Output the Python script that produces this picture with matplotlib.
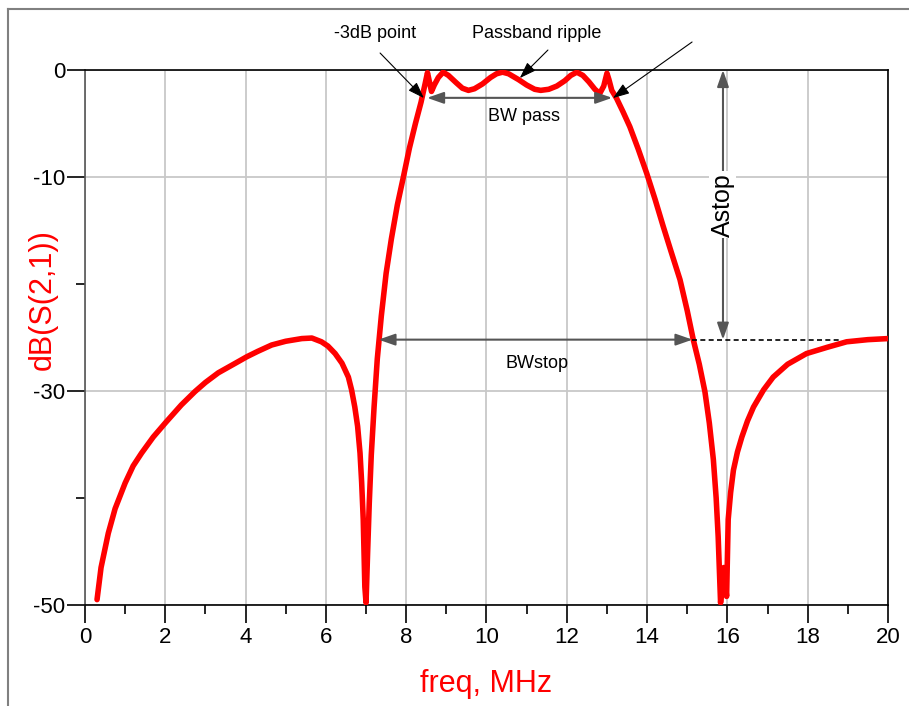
import matplotlib.pyplot as plt
from matplotlib.lines import Line2D

plt.rcParams['font.family'] = ['Liberation Sans', 'DejaVu Sans']
plt.rcParams['axes.unicode_minus'] = False

# S21 of the bandpass filter
freq = [0.30, 0.40, 0.58, 0.75, 1.00, 1.20, 1.41, 1.70, 2.02, 2.40, 2.74, 3.00,
        3.32, 3.70, 4.03, 4.30, 4.65, 5.00, 5.40, 5.65, 5.89, 6.05, 6.23, 6.40,
        6.56, 6.64, 6.72, 6.79, 6.85, 6.89, 6.93, 6.97, 7.00,
        7.04, 7.08, 7.13, 7.20, 7.28, 7.38, 7.50, 7.63, 7.78, 7.93, 8.08, 8.23,
        8.37, 8.47, 8.53, 8.63, 8.70, 8.80, 8.92, 9.05, 9.25, 9.40, 9.55, 9.70,
        9.90, 10.10, 10.25, 10.40, 10.55, 10.80, 11.00, 11.20, 11.35, 11.55,
        11.75, 11.95, 12.10, 12.25, 12.40, 12.55, 12.70, 12.82, 12.92, 13.00,
        13.05, 13.12, 13.24, 13.40, 13.57, 13.78, 13.99, 14.20, 14.40, 14.60,
        14.82, 15.00, 15.15, 15.30, 15.44, 15.55, 15.65, 15.72, 15.77, 15.83,
        15.91, 15.98, 16.02, 16.08, 16.15, 16.25, 16.36, 16.50, 16.65, 16.90,
        17.14, 17.50, 17.97, 18.50, 18.97, 19.50, 20.00]
s21_db = [-49.5, -46.5, -43.3, -41.0, -38.6, -37.0, -35.8, -34.3, -32.9, -31.3, -30.05, -29.2,
          -28.3, -27.5, -26.8, -26.3, -25.7, -25.35, -25.1, -25.05, -25.4, -25.8, -26.5, -27.4,
          -28.7, -29.9, -31.5, -33.3, -35.8, -38.5, -42.0, -48.3, -49.8,
          -45.0, -40.5, -36.0, -31.5, -27.0, -23.0, -19.0, -15.8, -12.6, -10.0, -7.3, -5.0,
          -3.0, -1.3, -0.25, -2.0, -1.4, -0.7, -0.2, -0.5, -1.2, -1.7, -1.9, -1.75,
          -1.3, -0.7, -0.35, -0.2, -0.35, -0.9, -1.4, -1.8, -1.9, -1.8,
          -1.5, -1.0, -0.5, -0.2, -0.5, -1.1, -1.8, -2.2, -1.5, -0.3,
          -0.9, -1.9, -2.65, -3.9, -5.3, -7.4, -9.65, -12.1, -14.6, -17.0,
          -19.6, -22.5, -25.2, -27.5, -30.06, -33.0, -36.4, -40.0, -43.6, -49.8,
          -46.5, -49.2, -42.0, -39.5, -37.4, -35.7, -34.3, -32.8, -31.5, -29.9,
          -28.7, -27.5, -26.5, -25.9, -25.4, -25.2, -25.1]

x_major = [0, 2, 4, 6, 8, 10, 12, 14, 16, 18, 20]
x_minor = [1, 3, 5, 7, 9, 11, 13, 15, 17, 19]
y_major = [-50, -30, -10, 0]
y_minor = [-40, -20]

fig = plt.figure(figsize=(9.09, 7.06), dpi=100)
ax = fig.add_axes([0.0935, 0.1431, 0.8834, 0.7577])

ax.plot(freq, s21_db, color='#ff0000', lw=4.0, solid_capstyle='round',
        solid_joinstyle='round', zorder=3)

ax.set_xlim(0, 20)
ax.set_ylim(-50, 0)
ax.set_xticks(x_major)
ax.set_xticks(x_minor, minor=True)
ax.set_yticks(y_major)
ax.set_yticks(y_minor, minor=True)
ax.tick_params(which='major', length=13, width=1.2, labelsize=16, pad=3)
ax.tick_params(which='minor', length=6.5, width=1.2)
ax.tick_params(axis='y', which='major', pad=1)

ax.grid(True, which='major', color='#c8c8c8', lw=1.3, zorder=0)
for s in ax.spines.values():
    s.set_color('black')
    s.set_linewidth(1.2)
ax.spines['left'].set_color('#555555')

ax.set_xlabel('freq, MHz', color='#ff0000', fontsize=22, labelpad=15)
ax.set_ylabel('dB(S(2,1))', color='#ff0000', fontsize=22)
ax.yaxis.set_label_coords(-0.034, 0.57)

thin = dict(arrowstyle='-|>,head_length=1.0,head_width=0.35', color='black', lw=0.8,
            shrinkA=0, shrinkB=0)
dbl = dict(arrowstyle='<|-|>,head_length=1.0,head_width=0.35', color='#555555', lw=1.5,
           shrinkA=0, shrinkB=0)

ax.annotate('', xy=(8.44, -2.62), xytext=(7.35, 1.59), arrowprops=thin, annotation_clip=False)
ax.annotate('', xy=(10.83, -0.75), xytext=(11.53, 1.87), arrowprops=thin, annotation_clip=False)
ax.annotate('', xy=(13.15, -2.62), xytext=(15.12, 2.62), arrowprops=thin, annotation_clip=False)
ax.text(7.22, 3.46, '-3dB point', fontsize=13, ha='center', va='center', clip_on=False)
ax.text(11.26, 3.46, 'Passband ripple', fontsize=13, ha='center', va='center', clip_on=False)

ax.annotate('', xy=(8.52, -2.6), xytext=(13.13, -2.6), arrowprops=dbl, zorder=4)
ax.text(10.93, -4.3, 'BW pass', fontsize=13, ha='center', va='center')

ax.annotate('', xy=(7.31, -25.2), xytext=(15.13, -25.2), arrowprops=dbl, zorder=4)
ax.text(11.26, -27.4, 'BWstop', fontsize=13, ha='center', va='center')

ax.annotate('', xy=(15.89, 0), xytext=(15.89, -25.2), arrowprops=dbl, zorder=4)
ax.text(15.89, -12.6, 'Astop', fontsize=18, ha='center', va='center', rotation=90,
        bbox=dict(facecolor='white', edgecolor='none', pad=1), zorder=5)

ax.plot([15.13, 18.8], [-25.2, -25.2], color='black', lw=1.2, ls=(0, (3, 2)), zorder=4)

# screenshot frame on top and left
fig.add_artist(Line2D([8 / 909, 8 / 909], [0, 1 - 9 / 706], color='#808080', lw=1.5))
fig.add_artist(Line2D([8 / 909, 1], [1 - 9 / 706, 1 - 9 / 706], color='#808080', lw=1.5))

fig.savefig('out.png', dpi=100)
